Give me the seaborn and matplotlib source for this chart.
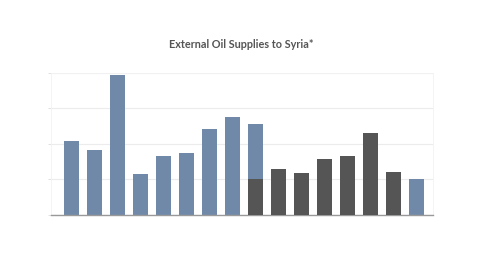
import matplotlib
matplotlib.use("Agg")
import matplotlib.pyplot as plt
import seaborn as sns
import pandas as pd
import numpy as np

categories = [f"P{i+1}" for i in range(16)]
dark_vals = [0, 0, 0, 0, 0, 0, 0, 0, 1.0, 1.30, 1.18, 1.58, 1.66, 2.32, 1.20, 0]
blue_vals = [2.08, 1.83, 3.93, 1.15, 1.66, 1.75, 2.42, 2.75, 1.56, 0, 0, 0, 0, 0, 0, 1.0]

BLUE = "#7189a8"
DARK = "#555555"

sns.set_theme(style="white")
plt.rcParams['font.family'] = ['Lato', 'DejaVu Sans']

df = pd.DataFrame({"cat": categories, "dark": dark_vals, "blue": blue_vals})
df["total"] = df["dark"] + df["blue"]

fig = plt.figure(figsize=(4.8, 2.7), dpi=100)
ax = fig.add_axes([0.106, 0.204, 0.796, 0.526])

sns.barplot(data=df, x="cat", y="total", order=categories, color=BLUE, saturation=1,
            width=0.65, ax=ax, linewidth=0, zorder=2)
sns.barplot(data=df, x="cat", y="dark", order=categories, color=DARK, saturation=1,
            width=0.65, ax=ax, linewidth=0, zorder=3)

ax.set_ylim(0, 4)
ax.set_xlim(-0.89, 15.72)
ax.set_yticks([0, 1, 2, 3, 4])
ax.set_yticklabels([])
ax.set_xticks([])
ax.set_xlabel("")
ax.set_ylabel("")
ax.grid(axis="y", color="#ececec", linewidth=0.8, zorder=0)
ax.set_axisbelow(True)
ax.tick_params(axis="y", length=2, color="#dddddd", width=0.6, left=True)
for s in ["left", "right", "top"]:
    ax.spines[s].set_color("#f2f2f2")
    ax.spines[s].set_linewidth(0.6)
ax.spines["bottom"].set_color("#999999")
ax.spines["bottom"].set_linewidth(1.0)

fig.text(0.503, 0.837, "External Oil Supplies to Syria*", ha="center", va="center",
         fontsize=7.8, color="#555555", fontweight="bold")

fig.savefig("out.png", dpi=100, facecolor="white")
